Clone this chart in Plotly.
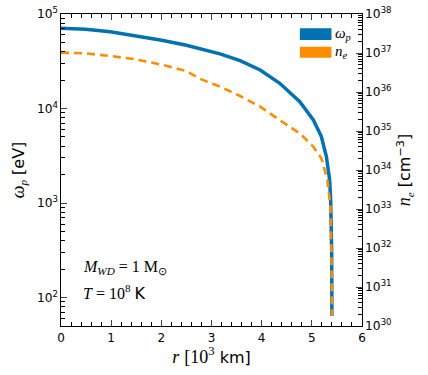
import plotly.graph_objects as go

# ---- data ----
r_omega = [0.0, 0.49, 0.98, 1.48, 1.98, 2.48, 2.97, 3.17, 3.57, 3.97, 4.36, 4.76,
           5.03, 5.19, 5.29, 5.355, 5.375, 5.39, 5.395, 5.40]
omega_p = [70600, 68900, 65000, 59000, 53100, 47000, 40600, 37800, 32100, 25600, 18500,
           11800, 7570, 5050, 3100, 1760, 1080, 590, 320, 64]

r_ne = [0.0, 0.49, 0.98, 1.48, 1.98, 2.48, 2.8, 3.17, 3.57, 3.97, 4.36, 4.76, 5.03,
        5.19, 5.31, 5.37, 5.39, 5.40]
n_e = [1.02e37, 9.8e36, 8.4e36, 6.9e36, 5.1e36, 3.5e36, 2.1e36, 1.37e36, 7.9e35, 4.2e35,
       1.9e35, 8.7e34, 3.95e34, 2.0e34, 5.5e33, 1.15e33, 8.9e31, 1.8e30]

x_ticks = [0, 1, 2, 3, 4, 5, 6]

BLUE = "#0072B2"
ORANGE = "#FF8C00"
SANS = "DejaVu Sans"
SERIF = "Liberation Serif"

fig = go.Figure()
fig.add_trace(go.Scatter(x=r_omega, y=omega_p, mode="lines", name="ω_p",
                         line=dict(color=BLUE, width=3.5), yaxis="y"))
fig.add_trace(go.Scatter(x=r_ne, y=n_e, mode="lines", name="n_e",
                         line=dict(color=ORANGE, width=2.6, dash="8px,5px"),
                         yaxis="y2"))

tickfont = dict(family=SANS, size=12, color="black")
logtickfont = dict(family=SANS, size=9.8, color="black")

fig.update_layout(
    width=428, height=375,
    margin=dict(l=60.5, r=65.7, t=14, b=49, autoexpand=False),
    paper_bgcolor="white", plot_bgcolor="white",
    showlegend=False,
    xaxis=dict(range=[0, 6], tickvals=x_ticks, ticks="inside", ticklen=6, tickwidth=1,
               showline=True, linecolor="black", linewidth=1.2, mirror="ticks",
               showgrid=False, zeroline=False, tickfont=tickfont, automargin=False,
               minor=dict(dtick=0.2, ticks="inside", ticklen=3.5, tickwidth=0.8,
                          tickcolor="black", showgrid=False),
               title=dict(text="<i><span style='font-family:Liberation Serif;font-size:18px'>r</span></i>"
                               " <span style='font-family:Liberation Serif;font-size:18px'>[10<sup>3</sup></span> km]",
                          font=dict(family=SANS, size=16, color="black"), standoff=4)),
    yaxis=dict(type="log", range=[1.699, 5], dtick=1, exponentformat="power",
               ticks="inside", ticklen=6, tickwidth=1, showline=True, linecolor="black",
               linewidth=1.2, showgrid=False, zeroline=False, tickfont=logtickfont,
               automargin=False,
               minor=dict(dtick="D1", ticks="inside", ticklen=3.5, tickwidth=0.8,
                          tickcolor="black", showgrid=False),
               title=dict(text="<i><span style='font-family:Liberation Serif;font-size:18px'>ω</span></i>"
                               "<sub><i><span style='font-family:Liberation Serif'>p</span></i></sub> [eV]",
                          font=dict(family=SANS, size=16, color="black"), standoff=8)),
    yaxis2=dict(type="log", range=[30, 38], dtick=1, exponentformat="power",
                overlaying="y", side="right", anchor="x", automargin=False,
                ticks="inside", ticklen=6, tickwidth=1, showline=True, linecolor="black",
                linewidth=1.2, showgrid=False, zeroline=False, tickfont=logtickfont,
                minor=dict(dtick="D1", ticks="inside", ticklen=3.5, tickwidth=0.8,
                           tickcolor="black", showgrid=False),
                title=dict(text="<i><span style='font-family:Liberation Serif;font-size:18px'>n</span></i>"
                                "<sub><i><span style='font-family:Liberation Serif'>e</span></i></sub>"
                                " [cm<sup>−3</sup>]",
                           font=dict(family=SANS, size=16, color="black"), standoff=8)),
)

# manual legend (rectangular swatches as in the reference)
fig.add_shape(type="rect", xref="paper", yref="paper", x0=0.7936, x1=0.8986,
              y0=0.9167, y1=0.9542, fillcolor=BLUE, line=dict(width=0))
fig.add_shape(type="rect", xref="paper", yref="paper", x0=0.7936, x1=0.8986,
              y0=0.8599, y1=0.8952, fillcolor=ORANGE, line=dict(width=0))
fig.add_annotation(xref="paper", yref="paper", x=0.902, y=0.936, xanchor="left",
                   yanchor="middle", showarrow=False,
                   text="<i>ω</i><sub><i>p</i></sub>",
                   font=dict(family=SERIF, size=15, color="black"))
fig.add_annotation(xref="paper", yref="paper", x=0.902, y=0.878, xanchor="left",
                   yanchor="middle", showarrow=False,
                   text="<i>n</i><sub><i>e</i></sub>",
                   font=dict(family=SERIF, size=15, color="black"))

# text annotations
fig.add_annotation(xref="paper", yref="paper", x=0.066, y=0.188, xanchor="left",
                   yanchor="middle", showarrow=False,
                   text="<i>M</i><sub><i>WD</i></sub> = 1 M<sub>⊙</sub>",
                   font=dict(family=SERIF, size=16, color="black"))
fig.add_annotation(xref="paper", yref="paper", x=0.066, y=0.108, xanchor="left",
                   yanchor="middle", showarrow=False,
                   text="<i>T</i> = 10<sup>8</sup> <span style='font-family:DejaVu Sans'>K</span>",
                   font=dict(family=SERIF, size=16, color="black"))

fig.write_html("out.html", config={"displayModeBar": False},
               post_script="document.body.style.margin='0px';document.body.style.overflow='hidden';")
